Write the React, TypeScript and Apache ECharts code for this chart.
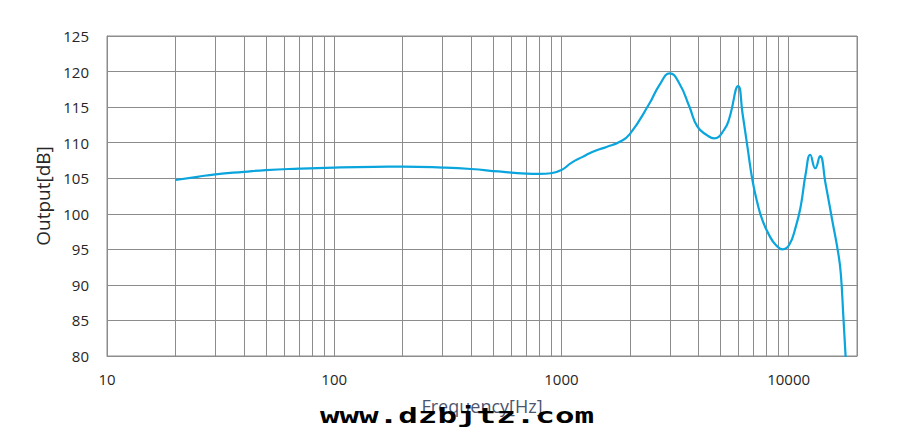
import React, { useEffect, useRef } from "react";
import * as echarts from "echarts";

const freqs: number[] = [
  20, 25, 30, 40, 50, 70, 100, 150, 200, 300, 400, 530, 700, 800, 900, 1000,
  1110, 1240, 1330, 1420, 1580, 1800, 2000, 2440, 2700, 3000, 3300,
  3660, 3970, 4400, 4700, 5200, 5480, 6000, 6270, 6590, 6930, 7290, 7670,
  8210, 8790, 9400, 10050, 10760, 11300, 11900, 12450, 13100, 13750, 14530,
  15560, 16550, 16970, 17420, 17850,
];
const outputs: number[] = [
  104.75, 105.2, 105.55, 105.9, 106.15, 106.35, 106.5, 106.6, 106.62, 106.5,
  106.3, 105.95, 105.65, 105.6, 105.7, 106.15, 107.2, 108.0, 108.5, 108.9,
  109.4, 110.1, 111.2, 115.5, 118.1, 119.75, 118.35, 115.05, 112.25,
  111.0, 110.6, 111.8, 113.4, 117.95, 114.1, 109.4, 104.75, 101.5, 99.1, 97.0,
  95.6, 95.0, 95.6, 98.2, 101.0, 105.7, 108.3, 106.4, 108.1, 104.3, 99.1,
  94.4, 91.6, 85.5, 79.5,
];
const majorTicks: number[] = [10, 100, 1000, 10000];
const minorGrid: number[] = [
  20, 30, 40, 50, 60, 70, 80, 90, 200, 300, 400, 500, 600, 700, 800, 900,
  2000, 3000, 4000, 5000, 6000, 7000, 8000, 9000,
];
const xTitle = "Frequency[Hz]";
const yTitle = "Output[dB]";
const watermark = "www.dzbjtz.com";

const GRID = "#8c8c8c";
const FONT = "'Open Sans', sans-serif";

export default function App() {
  const ref = useRef<HTMLDivElement>(null);
  useEffect(() => {
    if (!ref.current) return;
    document.body.style.margin = "0";
    const chart = echarts.init(ref.current, undefined, { renderer: "svg" });
    chart.setOption({
      animation: false,
      backgroundColor: "#ffffff",
      grid: {
        left: 107,
        right: 59,
        top: 36,
        bottom: 83,
        show: true,
        borderColor: GRID,
        borderWidth: 1,
      },
      xAxis: {
        type: "log",
        logBase: 10,
        min: 10,
        max: 20000,
        name: xTitle,
        nameLocation: "middle",
        nameGap: 41,
        nameTextStyle: { fontFamily: FONT, fontSize: 18, color: "#4a5570" },
        axisLine: { show: true, lineStyle: { color: GRID } },
        axisTick: { show: false },
        axisLabel: {
          margin: 15,
          fontFamily: FONT,
          fontSize: 15,
          color: "#262626",
          showMaxLabel: false,
          formatter: (v: number) => {
            const r = Math.round(v);
            return majorTicks.indexOf(r) >= 0 ? String(r) : "";
          },
        },
        splitLine: { show: true, lineStyle: { color: GRID, width: 1 } },
      },
      yAxis: {
        type: "value",
        min: 80,
        max: 125,
        interval: 5,
        name: yTitle,
        nameLocation: "middle",
        nameGap: 54,
        nameTextStyle: { fontFamily: FONT, fontSize: 19, color: "#262626" },
        axisLine: { show: true, lineStyle: { color: GRID } },
        axisTick: { show: false },
        axisLabel: {
          margin: 18,
          fontFamily: FONT,
          fontSize: 15,
          color: "#262626",
        },
        splitLine: { show: true, lineStyle: { color: GRID, width: 1 } },
      },
      series: [
        {
          type: "line",
          data: freqs.map((f, i) => [f, outputs[i]]),
          showSymbol: false,
          smooth: 0.5,
          lineStyle: { color: "#0aa5dd", width: 2.2 },
          itemStyle: { color: "#0aa5dd" },
          markLine: {
            silent: true,
            symbol: ["none", "none"],
            label: { show: false },
            lineStyle: { color: GRID, width: 1, type: "solid" },
            emphasis: { disabled: true },
            data: minorGrid.map((f) => ({ xAxis: f })),
            z: 1,
          },
          z: 3,
        },
      ],
      graphic: [
        {
          type: "text",
          x: 457,
          y: 415,
          z: 100,
          scaleX: 1.48,
          style: {
            text: watermark,
            fontFamily: "'DejaVu Sans Mono', monospace",
            fontWeight: "bold",
            fontSize: 22,
            fill: "#000000",
            align: "center",
            verticalAlign: "middle",
          },
        },
      ],
    });
    return () => chart.dispose();
  }, []);
  return <div ref={ref} style={{ width: 916, height: 439 }} />;
}
